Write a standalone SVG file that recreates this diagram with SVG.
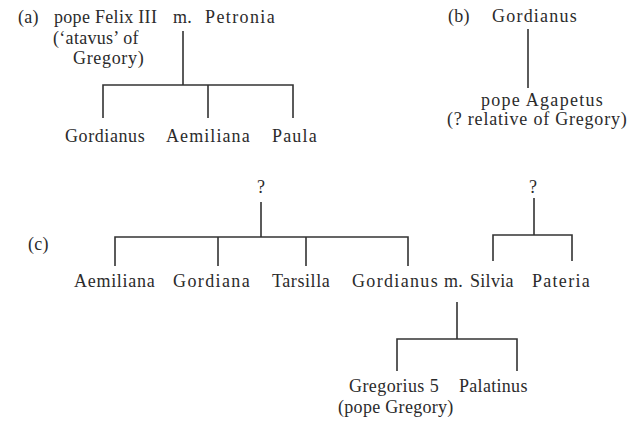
<svg xmlns="http://www.w3.org/2000/svg" width="632" height="422" viewBox="0 0 632 422">
<style>
text{font-family:"Liberation Serif","DejaVu Serif",serif;font-size:18px;fill:#2b2b2b;letter-spacing:0.3px}
.ln{stroke:#333;stroke-width:1.6;fill:none}
</style>
<rect width="632" height="422" fill="#fff"/>
<g id="labels">
<text x="18" y="23">(a)</text>
<text x="448" y="22">(b)</text>
<text x="28" y="250">(c)</text>
</g>
<g id="felix">
<text x="54" y="23">pope Felix III</text>
<text x="173" y="23">m.</text>
<text x="205" y="23" textLength="70">Petronia</text>
<text x="53" y="44">(‘atavus’ of</text>
<text x="73" y="64" textLength="71">Gregory)</text>
</g>
<g id="a-gordianus"><text x="65" y="142" textLength="80">Gordianus</text></g>
<g id="a-aemiliana"><text x="166" y="142" textLength="84">Aemiliana</text></g>
<g id="a-paula"><text x="272" y="142" textLength="45">Paula</text></g>
<g id="b-gordianus"><text x="492" y="22" textLength="85">Gordianus</text></g>
<g id="agapetus">
<text x="481" y="106" textLength="122">pope Agapetus</text>
<text x="447" y="125" textLength="180">(? relative of Gregory)</text>
</g>
<g id="c-unknown1"><text x="257" y="193">?</text></g>
<g id="c-unknown2"><text x="529" y="193">?</text></g>
<g id="c-aemiliana"><text x="74" y="287" textLength="81">Aemiliana</text></g>
<g id="c-gordiana"><text x="173" y="287" textLength="77">Gordiana</text></g>
<g id="c-tarsilla"><text x="272" y="287" textLength="58">Tarsilla</text></g>
<g id="c-gordianus-silvia">
<text x="352" y="287" textLength="86">Gordianus</text>
<text x="444" y="287">m.</text>
<text x="470" y="287">Silvia</text>
</g>
<g id="c-pateria"><text x="532" y="287" textLength="58">Pateria</text></g>
<g id="gregorius">
<text x="349" y="392" textLength="90">Gregorius 5</text>
<text x="338" y="413">(pope Gregory)</text>
</g>
<g id="palatinus"><text x="459" y="392">Palatinus</text></g>
<g id="connectors" class="ln">
<path d="M183 31V85M103 118V85H293V118M208 85V118"/>
<path d="M528 29V88"/>
<path d="M261 202V237M115 266V237H408V266M218 237V266M306 237V266"/>
<path d="M534 198V235M493 261V235H572V261"/>
<path d="M457 302V339M397 371V339H517V371"/>
</g>
</svg>
